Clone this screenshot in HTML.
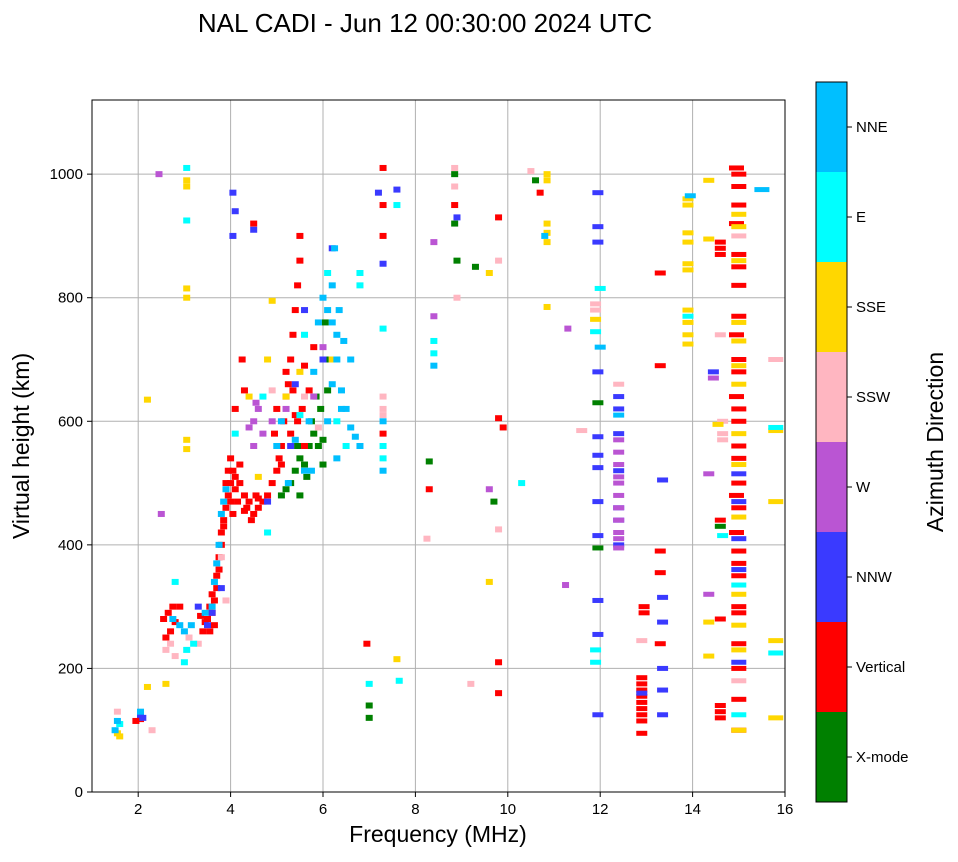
<!DOCTYPE html>
<html><head><meta charset="utf-8"><style>
body{margin:0;background:#fff;}
svg text{font-family:"Liberation Sans",sans-serif;}
</style></head><body>
<svg id="chart" width="958" height="857" xmlns="http://www.w3.org/2000/svg">
<rect width="958" height="857" fill="#fff"/>
<text x="425" y="32" font-size="26" text-anchor="middle">NAL CADI - Jun 12 00:30:00 2024 UTC</text>
<g id="grid"></g>
<g id="marks"></g>
<rect x="92" y="100" width="693" height="692" fill="none" stroke="#000" stroke-width="1"/>
<g id="axes"></g>
<text x="438" y="842" font-size="23" text-anchor="middle">Frequency (MHz)</text>
<text transform="translate(29,446) rotate(-90)" font-size="23" text-anchor="middle">Virtual height (km)</text>
<g id="cbar"></g>
<text transform="translate(943,442) rotate(-90)" font-size="23" text-anchor="middle">Azimuth Direction</text>
</svg>
<script>
const xTicks=[2,4,6,8,10,12,14,16];
const yTicks=[0,200,400,600,800,1000];
const dirNames=["X-mode","Vertical","NNW","W","SSW","SSE","E","NNE"];
const dirColors=["#008000","#ff0000","#3a3aff","#ba55d3","#ffb6c1","#ffd700","#00ffff","#00bfff"];
const greenF=[5.3,5.4,5.5,5.6,5.7,5.8,5.9,6.0,5.95,6.05,6.05,6.0,5.2,5.1,7.0,7.0,8.3,8.85,8.85,8.9,9.3,9.7,10.6,11.95,11.95,14.6,5.65,5.75,5.85,6.1,5.5,5.45];
const greenH=[500,520,540,530,560,580,560,570,620,700,760,530,490,480,120,140,535,1000,920,860,850,470,990,630,395,430,510,600,640,650,480,560];
const redF=[1.95,2.05,2.6,2.65,2.7,2.8,2.9,3.4,3.5,3.55,3.6,3.7,3.75,3.8,3.85,3.9,3.95,4.0,4.0,4.05,4.1,4.15,4.2,4.3,4.35,4.4,4.5,4.55,4.6,4.7,4.8,4.9,5.0,5.1,5.15,5.2,5.25,5.3,5.35,5.4,5.45,5.5,5.5,5.45,5.6,5.55,5.6,5.7,5.8,5.1,5.3,4.25,4.5,4.3,4.1,3.65,3.7,3.75,3.8,3.85,3.9,3.95,4.0,4.05,4.1,4.2,4.3,4.45,4.6,3.6,3.65,3.55,3.45,3.35,2.55,2.75,5.0,5.2,5.4,4.95,5.05,5.35,7.3,7.3,7.3,7.3,6.95,8.85,9.8,9.9,9.8,9.8,9.8,10.7,12.9,12.9,12.9,12.9,12.9,12.9,12.9,12.9,12.9,12.95,12.95,13.3,13.3,13.3,13.3,13.3,14.6,14.6,14.6,14.6,14.6,14.6,14.6,14.6,14.95,15.0,15.0,15.0,14.95,15.0,15.0,15.0,15.0,14.95,15.0,15.0,14.95,15.0,15.0,15.0,15.0,15.0,14.95,15.0,14.95,15.0,15.0,15.0,15.0,15.0,15.0,15.0,15.0,15.0,8.3];
const redH=[115,118,250,290,260,275,300,260,280,300,320,350,380,400,430,460,480,500,540,520,490,470,500,480,460,470,450,480,460,470,480,500,520,560,600,640,660,700,740,780,820,860,900,600,560,620,690,650,720,530,580,700,920,650,620,310,330,360,420,440,500,520,470,450,510,530,455,440,475,290,270,260,275,285,280,300,620,680,610,580,540,650,1010,900,950,580,240,950,930,590,605,210,160,970,185,175,165,155,145,135,125,115,95,300,290,390,355,240,690,840,880,870,440,280,140,130,120,890,1010,1000,980,950,920,870,850,820,770,740,700,680,640,620,600,560,540,500,480,460,420,390,370,350,300,290,240,200,150,100,490];
const nnwF=[2.05,2.1,3.3,3.5,3.6,3.8,4.05,4.1,4.05,4.5,5.3,5.6,6.2,6.0,7.3,7.2,7.6,8.9,11.95,11.95,11.95,11.95,11.95,11.95,11.95,11.95,11.95,11.95,11.95,11.95,12.4,12.4,12.4,12.4,12.4,12.4,12.4,13.35,13.35,13.35,13.35,13.35,13.35,12.9,14.45,15.0,15.0,15.0,15.0,15.0,4.8,5.4];
const nnwH=[125,120,300,270,290,330,970,940,900,910,560,780,880,700,855,970,975,930,970,915,890,680,575,545,525,470,415,310,255,125,640,620,580,520,460,440,400,505,315,275,200,165,125,160,680,515,470,410,360,210,470,660];
const wF=[2.45,2.5,4.5,4.4,4.6,4.7,4.9,5.2,5.8,6.0,8.4,8.4,11.25,12.4,12.4,12.4,12.4,12.4,12.4,12.4,12.4,12.4,12.4,12.4,14.35,14.35,14.45,9.6,11.3,4.5,4.55];
const wH=[1000,450,560,590,620,580,600,620,640,720,890,770,335,570,550,530,510,500,480,460,440,420,410,395,320,515,670,490,750,600,630];
const sswF=[1.55,2.3,2.6,2.7,2.8,3.1,3.3,3.9,4.9,5.6,5.9,7.3,7.3,7.3,8.85,8.85,8.9,8.25,9.2,9.8,9.8,10.5,11.6,11.9,11.9,12.4,12.9,14.65,14.65,14.65,14.6,15.0,15.8,15.0,3.8];
const sswH=[130,100,230,240,220,250,240,310,650,640,590,640,620,610,1010,980,800,410,175,425,860,1005,585,790,780,660,245,600,580,570,740,180,700,900,380];
const sseF=[1.55,1.6,2.2,2.6,2.2,3.05,3.05,3.05,3.05,3.05,3.05,4.9,5.2,4.8,5.5,6.2,7.6,9.6,9.6,10.85,10.85,10.85,10.85,10.85,10.85,11.9,13.9,13.9,13.9,13.9,13.9,13.9,13.9,13.9,13.9,13.9,14.35,14.35,14.35,14.35,15.0,15.0,15.0,15.0,15.0,15.0,15.0,15.0,15.0,15.0,15.0,15.0,15.0,15.0,15.8,15.8,15.8,15.8,14.55,4.4,4.6];
const sseH=[95,90,170,175,635,815,800,570,555,990,980,795,640,700,680,700,215,840,340,1000,990,920,905,890,785,765,960,950,905,890,855,845,780,760,740,725,990,895,275,220,935,915,860,760,730,690,660,580,530,445,320,270,230,100,585,470,245,120,595,640,510];
const eF=[1.6,2.8,3.05,3.05,3.05,3.0,3.2,4.1,4.8,5.6,6.1,6.8,7.0,7.3,7.3,7.3,7.6,7.65,8.4,8.4,10.3,11.9,11.9,11.9,13.9,14.65,15.0,15.0,15.8,15.8,12.0,6.8,6.3,6.5,4.7,5.5];
const eH=[110,340,1010,925,230,210,240,580,420,740,840,840,175,750,560,540,950,180,730,710,500,745,230,210,770,415,335,125,590,225,815,820,600,560,640,610];
const nneF=[1.5,1.55,2.05,2.75,2.9,3.0,3.15,3.7,3.8,3.85,3.9,5.0,5.1,5.4,5.6,5.7,5.8,5.9,6.0,6.1,6.2,6.3,6.3,6.2,6.4,6.5,6.6,6.7,6.8,6.3,6.4,6.6,6.1,6.2,6.25,7.3,7.3,8.4,10.8,12.0,13.95,15.5,12.4,3.75,3.65,3.6,3.45,6.35,6.45,5.25,5.75];
const nneH=[100,115,130,280,270,260,270,370,450,470,490,560,600,570,520,600,680,760,800,780,760,740,700,660,650,620,590,575,560,540,620,700,600,820,880,600,520,690,900,720,965,975,610,400,340,300,290,780,730,500,520];
const seriesF=[greenF,redF,nnwF,wF,sswF,sseF,eF,nneF];
const seriesH=[greenH,redH,nnwH,wH,sswH,sseH,eH,nneH];

const X0=92,X1=785,Y0=792,Y1=100,FMIN=1,FMAX=16,HMIN=0,HMAX=1120;
function xs(f){return X0+(f-FMIN)/(FMAX-FMIN)*(X1-X0);}
function ys(h){return Y0-(h-HMIN)/(HMAX-HMIN)*(Y0-Y1);}
const NS="http://www.w3.org/2000/svg";
function mk(tag,attrs,parent){const e=document.createElementNS(NS,tag);for(const k in attrs)e.setAttribute(k,attrs[k]);parent.appendChild(e);return e;}
const grid=document.getElementById('grid'),axes=document.getElementById('axes'),marks=document.getElementById('marks'),cbar=document.getElementById('cbar');
xTicks.forEach(t=>{
  const x=xs(t);
  const g=mk('line',{x1:x,x2:x,y1:Y1,y2:Y0,stroke:'#b0b0b0','stroke-width':1},grid);
  
  
  mk('line',{x1:x,x2:x,y1:Y0,y2:Y0+5,stroke:'#000'},axes);
  const tx=mk('text',{x:x,y:Y0+22,'font-size':15,'text-anchor':'middle'},axes);
  tx.textContent=t;
  
  
});
yTicks.forEach(t=>{
  const y=ys(t);
  const g=mk('line',{x1:X0,x2:X1,y1:y,y2:y,stroke:'#b0b0b0','stroke-width':1},grid);
  
  
  mk('line',{x1:X0-5,x2:X0,y1:y,y2:y,stroke:'#000'},axes);
  const tx=mk('text',{x:X0-9,y:y+5,'font-size':15,'text-anchor':'end'},axes);
  tx.textContent=t;
  
  
});
seriesF.forEach((fa,d)=>{
  const ha=seriesH[d];
  fa.forEach((f,i)=>{
    const wide=f>11.5;
    const w=wide?(f>14.8?15:11):7;
    const h=wide?5:6;
    const r=mk('rect',{x:xs(f)-w/2,y:ys(ha[i])-h/2,width:w,height:h,fill:dirColors[d]},marks);
    
    
  });
});
const CX=816,CW=31,CT=82,CB=802,seg=(CB-CT)/dirNames.length;
dirNames.forEach((n,i)=>{
  const y=CB-(i+1)*seg;
  const r=mk('rect',{x:CX,y:y,width:CW,height:seg,fill:dirColors[i]},cbar);
  
  
  mk('line',{x1:CX+CW,x2:CX+CW+5,y1:y+seg/2,y2:y+seg/2,stroke:'#000'},cbar);
  const tx=mk('text',{x:CX+CW+9,y:y+seg/2+5,'font-size':15},cbar);
  tx.textContent=n;
  
  
});
mk('rect',{x:CX,y:CT,width:CW,height:CB-CT,fill:'none',stroke:'#000'},cbar);
</script>
</body></html>
